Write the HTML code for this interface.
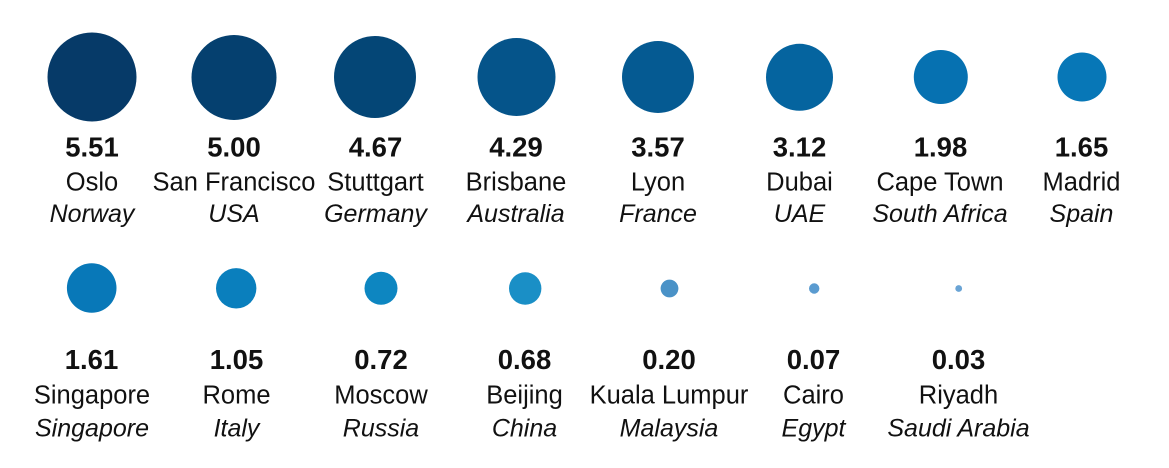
<!DOCTYPE html>
<html>
<head>
<meta charset="utf-8">
<style>
  html, body { margin:0; padding:0; background:#ffffff; }
  svg { display:block; }
  .v { font-family:"Liberation Sans", sans-serif; font-weight:bold; font-size:27.5px; fill:#111; text-anchor:middle; }
  .n { font-family:"Liberation Sans", sans-serif; font-size:25.5px; fill:#111; text-anchor:middle; }
  .c { font-family:"Liberation Sans", sans-serif; font-style:italic; font-size:25px; fill:#111; text-anchor:middle; }
</style>
</head>
<body>
<svg width="1169" height="468" viewBox="0 0 1169 468" xmlns="http://www.w3.org/2000/svg">
  <rect width="1169" height="468" fill="#ffffff"/>
  <!-- Row 1 circles -->
  <circle cx="92" cy="77" r="44.5" fill="#063a68"/>
  <circle cx="234" cy="77.5" r="42.5" fill="#05406f"/>
  <circle cx="375" cy="77" r="41" fill="#044676"/>
  <circle cx="516.5" cy="77" r="39" fill="#05548a"/>
  <circle cx="658" cy="77" r="36" fill="#055a92"/>
  <circle cx="799.5" cy="77.3" r="33.5" fill="#05649f"/>
  <circle cx="940.8" cy="77" r="27" fill="#0671b1"/>
  <circle cx="1082" cy="77" r="24.5" fill="#0777b7"/>

  <!-- Row 1 text -->
  <g>
    <text class="v" x="92" y="156.5">5.51</text>
    <text class="n" x="92" y="190.5">Oslo</text>
    <text class="c" x="92" y="222">Norway</text>

    <text class="v" x="234" y="156.5">5.00</text>
    <text class="n" x="234" y="190.5">San Francisco</text>
    <text class="c" x="234" y="222">USA</text>

    <text class="v" x="375.5" y="156.5">4.67</text>
    <text class="n" x="375.5" y="190.5">Stuttgart</text>
    <text class="c" x="375.5" y="222">Germany</text>

    <text class="v" x="516" y="156.5">4.29</text>
    <text class="n" x="516" y="190.5">Brisbane</text>
    <text class="c" x="516" y="222">Australia</text>

    <text class="v" x="658" y="156.5">3.57</text>
    <text class="n" x="658" y="190.5">Lyon</text>
    <text class="c" x="658" y="222">France</text>

    <text class="v" x="799.5" y="156.5">3.12</text>
    <text class="n" x="799.5" y="190.5">Dubai</text>
    <text class="c" x="799.5" y="222">UAE</text>

    <text class="v" x="940.5" y="156.5">1.98</text>
    <text class="n" x="940" y="190.5">Cape Town</text>
    <text class="c" x="940" y="222">South Africa</text>

    <text class="v" x="1081.5" y="156.5">1.65</text>
    <text class="n" x="1081.5" y="190.5">Madrid</text>
    <text class="c" x="1081.5" y="222">Spain</text>
  </g>

  <!-- Row 2 circles -->
  <circle cx="91.7" cy="288" r="24.8" fill="#0878b8"/>
  <circle cx="236.2" cy="288.3" r="20.2" fill="#0a7fbd"/>
  <circle cx="381" cy="288.3" r="16.5" fill="#0d86c1"/>
  <circle cx="525.2" cy="288.5" r="16.2" fill="#1a8fc6"/>
  <circle cx="669.5" cy="288.5" r="8.9" fill="#4a92c7"/>
  <circle cx="814.2" cy="288.5" r="5.2" fill="#5a9bd0"/>
  <circle cx="958.7" cy="288.5" r="3.4" fill="#6aa4d5"/>

  <!-- Row 2 text -->
  <g>
    <text class="v" x="91.5" y="369">1.61</text>
    <text class="n" x="92" y="403.5">Singapore</text>
    <text class="c" x="92" y="436.5">Singapore</text>

    <text class="v" x="236.5" y="369">1.05</text>
    <text class="n" x="236.5" y="403.5">Rome</text>
    <text class="c" x="236.5" y="436.5">Italy</text>

    <text class="v" x="381" y="369">0.72</text>
    <text class="n" x="381" y="403.5">Moscow</text>
    <text class="c" x="381" y="436.5">Russia</text>

    <text class="v" x="524.5" y="369">0.68</text>
    <text class="n" x="524.5" y="403.5">Beijing</text>
    <text class="c" x="524.5" y="436.5">China</text>

    <text class="v" x="669" y="369">0.20</text>
    <text class="n" x="669" y="403.5">Kuala Lumpur</text>
    <text class="c" x="669" y="436.5">Malaysia</text>

    <text class="v" x="813.5" y="369">0.07</text>
    <text class="n" x="813.5" y="403.5">Cairo</text>
    <text class="c" x="813.5" y="436.5">Egypt</text>

    <text class="v" x="958.5" y="369">0.03</text>
    <text class="n" x="958.5" y="403.5">Riyadh</text>
    <text class="c" x="958.5" y="436.5">Saudi Arabia</text>
  </g>
</svg>
</body>
</html>
